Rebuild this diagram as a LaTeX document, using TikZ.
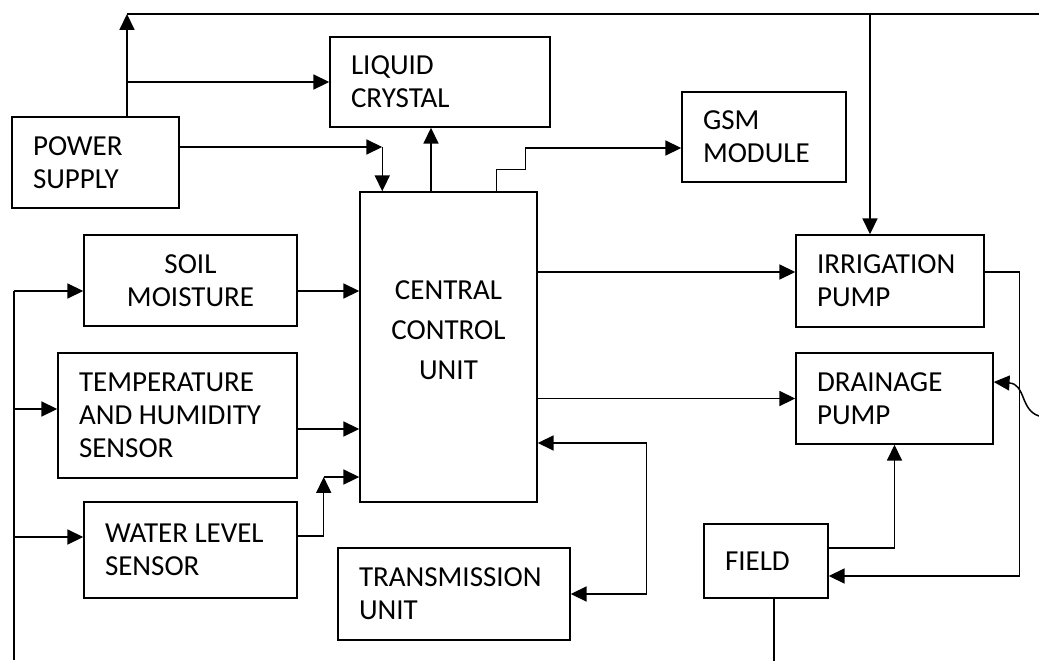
\documentclass[tikz,border=0pt]{standalone}
\usepackage{fontspec}
\setmainfont{Carlito}
\usepackage{tikz}
\usetikzlibrary{arrows.meta}

\tikzset{
  blk/.style={draw, inner xsep=0.42cm, align=left, font=\fontsize{16.5pt}{18.7pt}\selectfont,
              execute at begin node={\spaceskip=0pt\xspaceskip=0pt\relax}},
  ccutxt/.style={align=center, font=\fontsize{16.5pt}{22.7pt}\selectfont},
}

\begin{document}
\begin{tikzpicture}[x=0.02cm, y=-0.02cm, line width=0.85pt, >={Triangle[length=9pt,width=8.5pt]}]
\useasboundingbox (0,0) rectangle (1039,660);

% blocks
\node[blk, text width=2.50cm, minimum height=1.82cm] (ps) at (95.5,162.5) {POWER\\SUPPLY};
\node[blk, text width=3.56cm, minimum height=1.80cm] (lcd) at (440,82) {LIQUID\\CRYSTAL};
\node[blk, text width=2.44cm, minimum height=1.80cm] (gsm) at (764,137) {GSM\\MODULE};
\node[blk, minimum width=3.54cm, minimum height=6.20cm,
      label={[ccutxt, yshift=0.34cm]center:CENTRAL\\CONTROL\\UNIT}] (ccu) at (448.5,347) {};
\node[blk, align=center, text width=3.42cm, minimum height=1.82cm] (soil) at (190.5,280.5) {SOIL\\MOISTURE};
\node[blk, text width=3.94cm, minimum height=2.50cm] (temp) at (177.5,415.5) {TEMPERATURE\\AND HUMIDITY\\SENSOR};
\node[blk, text width=3.42cm, minimum height=1.92cm] (water) at (190.5,550) {WATER LEVEL\\SENSOR};
\node[blk, text width=3.80cm, minimum height=1.84cm] (trans) at (454,594) {TRANSMISSION\\UNIT};
\node[blk, text width=2.92cm, minimum height=1.84cm] (irr) at (890,281) {IRRIGATION\\PUMP};
\node[blk, text width=3.10cm, minimum height=1.82cm] (drain) at (894.5,398.5) {DRAINAGE\\PUMP};
\node[blk, text width=1.64cm, minimum height=1.48cm] (field) at (766,561) {FIELD};

% power lines
\coordinate (bus) at (127,14);
\coordinate (busend) at (1039,14);
\draw[->] (ps.north -| bus) -- (bus);
\draw (bus) -- (busend);
\draw[->] (bus |- lcd.west) -- (lcd.west);
\coordinate (psout) at ([yshift=0.31cm]ps.east);
\coordinate (ccuin) at ([xshift=0.46cm]ccu.north west);
\draw[->] (psout) -- (psout -| ccuin);
\draw[->] (psout -| ccuin) -- (ccuin);
\coordinate (irrin) at ([xshift=-0.4cm]irr.north);
\draw[->] (irrin |- bus) -- (irrin);

% outputs of the control unit
\coordinate (lcdin) at ([xshift=-0.18cm]lcd.south);
\draw[->] (lcdin |- ccu.north) -- (lcdin);
\draw[->] ([xshift=2.74cm]ccu.north west) -- ++(0,-22) -- ++(29,0) |- ([yshift=-0.22cm]gsm.west);
\coordinate (irrL) at ([yshift=0.18cm]irr.west);
\draw[->] (irrL -| ccu.east) -- (irrL);
\draw[->] (drain.west -| ccu.east) -- (drain.west);
\coordinate (ccuT) at ([yshift=-1.92cm]ccu.east);
\draw[<->] (ccuT) -- ++(109,0) |- (trans.east);

% pumps and field
\draw[->] ([yshift=0.18cm]irr.east) -- ++(35,0) |- ([yshift=-0.3cm]field.east);
\draw[->] ([yshift=0.26cm]field.east) -| (drain.south);
\draw ([xshift=0.16cm]field.south) -- ++(0,62);
\coordinate (wv) at (1039,416);
\draw[->] (wv) .. controls (1020,410) and (1026,384) .. ([yshift=0.33cm]drain.east);

% sensors
\coordinate (lbus) at (14,660);
\coordinate (soilL) at ([yshift=-0.21cm]soil.west);
\coordinate (tempL) at ([yshift=0.13cm]temp.west);
\coordinate (waterL) at ([yshift=0.26cm]water.west);
\draw (soilL -| lbus) -- (lbus);
\draw[->] (soilL -| lbus) -- (soilL);
\draw[->] (tempL -| lbus) -- (tempL);
\draw[->] (waterL -| lbus) -- (waterL);
\coordinate (soilR) at ([yshift=-0.21cm]soil.east);
\coordinate (tempR) at ([yshift=-0.27cm]temp.east);
\coordinate (waterR) at ([yshift=0.28cm]water.east);
\coordinate (wj) at ([xshift=0.52cm,yshift=1.46cm]water.east);
\draw[->] (soilR) -- (soilR -| ccu.west);
\draw[->] (tempR) -- (tempR -| ccu.west);
\draw[->] (waterR) -| (wj);
\draw[->] (wj) -- (wj -| ccu.west);
\end{tikzpicture}
\end{document}
